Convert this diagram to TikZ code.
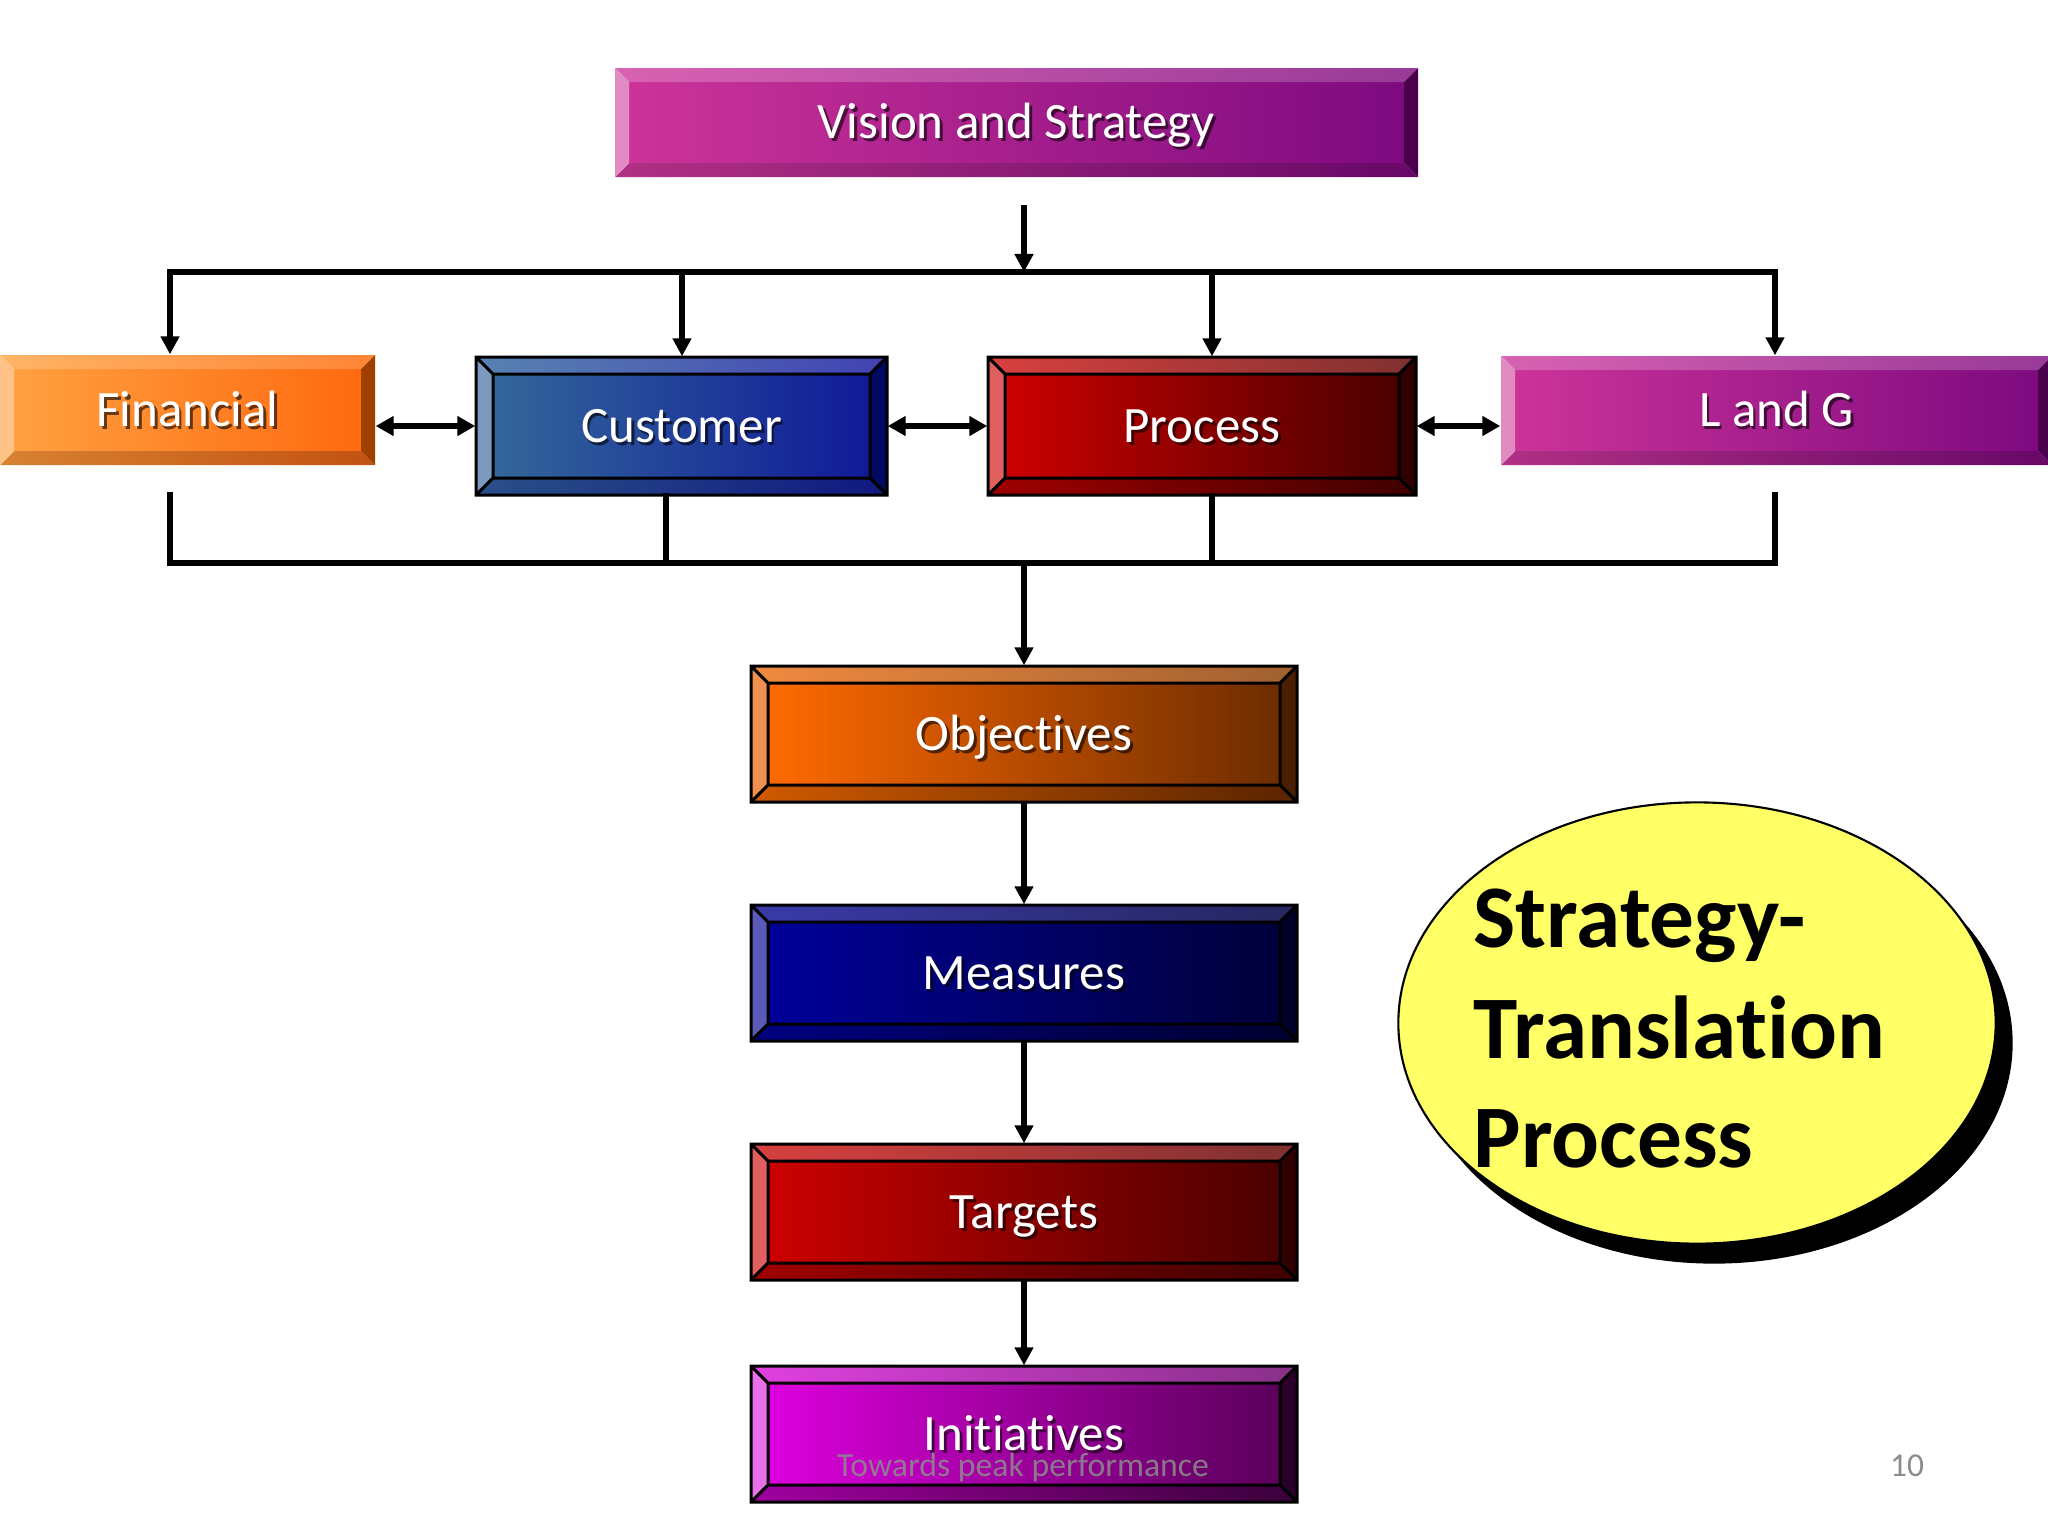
\documentclass[tikz,border=0pt]{standalone}
\usepackage{fontspec}
\setmainfont{Carlito}[Ligatures=NoCommon]
\usetikzlibrary{arrows.meta,shapes.geometric,fit}

% Vision / L and G scheme
\definecolor{visFL}{HTML}{CC3399}\definecolor{visFR}{HTML}{7E0A80}
\definecolor{visTL}{HTML}{D862B2}\definecolor{visTR}{HTML}{983A98}
\definecolor{visBL}{HTML}{B03084}\definecolor{visBR}{HTML}{680868}
\definecolor{visLC}{HTML}{E08CC2}\definecolor{visRC}{HTML}{4A004A}
% Financial
\definecolor{finFL}{HTML}{FFA040}\definecolor{finFR}{HTML}{FF6A10}
\definecolor{finTL}{HTML}{FFB466}\definecolor{finTR}{HTML}{FF8436}
\definecolor{finBL}{HTML}{D88232}\definecolor{finBR}{HTML}{C25212}
\definecolor{finLC}{HTML}{FFC286}\definecolor{finRC}{HTML}{A04000}
% Customer
\definecolor{cusFL}{HTML}{33669A}\definecolor{cusFR}{HTML}{101A99}
\definecolor{cusTL}{HTML}{5882B2}\definecolor{cusTR}{HTML}{4242B2}
\definecolor{cusBL}{HTML}{2A5088}\definecolor{cusBR}{HTML}{101880}
\definecolor{cusLC}{HTML}{7A9AC0}\definecolor{cusRC}{HTML}{000A60}
% Process / Targets
\definecolor{proFL}{HTML}{CC0000}\definecolor{proFR}{HTML}{4A0000}
\definecolor{proTL}{HTML}{D84040}\definecolor{proTR}{HTML}{803030}
\definecolor{proBL}{HTML}{A00000}\definecolor{proBR}{HTML}{400000}
\definecolor{proLC}{HTML}{E06060}\definecolor{proRC}{HTML}{300000}
% Objectives
\definecolor{objFL}{HTML}{FF6A00}\definecolor{objFR}{HTML}{6E2C00}
\definecolor{objTL}{HTML}{F08A40}\definecolor{objTR}{HTML}{A06030}
\definecolor{objBL}{HTML}{D05A00}\definecolor{objBR}{HTML}{5A2400}
\definecolor{objLC}{HTML}{F09050}\definecolor{objRC}{HTML}{4A1E00}
% Measures
\definecolor{meaFL}{HTML}{000099}\definecolor{meaFR}{HTML}{00003A}
\definecolor{meaTL}{HTML}{3A3AA8}\definecolor{meaTR}{HTML}{262660}
\definecolor{meaBL}{HTML}{000080}\definecolor{meaBR}{HTML}{000030}
\definecolor{meaLC}{HTML}{5A5AB8}\definecolor{meaRC}{HTML}{00002A}
% Initiatives
\definecolor{iniFL}{HTML}{DD00DD}\definecolor{iniFR}{HTML}{5A005A}
\definecolor{iniTL}{HTML}{E040E0}\definecolor{iniTR}{HTML}{883088}
\definecolor{iniBL}{HTML}{A000A0}\definecolor{iniBR}{HTML}{3A003A}
\definecolor{iniLC}{HTML}{E870E8}\definecolor{iniRC}{HTML}{2A002A}

\definecolor{ellyellow}{HTML}{FFFF66}
\definecolor{footgray}{HTML}{8C8C8C}

\tikzset{
  outl/.style={draw=black,line width=0.85pt,line join=miter},
  nool/.style={draw=none},
  lbl/.style={inner sep=0pt,text=white,font=\fontsize{14.5}{17}\selectfont,text height=9.3pt,text depth=0pt},
  lblshadow/.style={lbl,text=black,opacity=0.6},
  conn/.style={line width=0.06cm,line cap=rect},
  arr/.style={line width=0.06cm,-{Triangle[length=0.18cm,width=0.18cm]}},
  darr/.style={line width=0.06cm,{Triangle[length=0.18cm,width=0.19cm]}-{Triangle[length=0.18cm,width=0.19cm]}},
  bigtext/.style={anchor=base west,inner sep=0pt,font=\bfseries\fontsize{25.4}{30}\selectfont},
}

% #1 name, #2 scheme, #3 x1, #4 y1, #5 x2, #6 y2, #7 bevel, #8 label, #9 outline style
\newcommand\bevbox[9]{%
  \shade[left color=#2FL,right color=#2FR] ({#3+#7},{#4+#7}) rectangle ({#5-#7},{#6-#7});
  \shade[left color=#2TL,right color=#2TR] (#3,#4) -- (#5,#4) -- ({#5-#7},{#4+#7}) -- ({#3+#7},{#4+#7}) -- cycle;
  \shade[left color=#2BL,right color=#2BR] (#3,#6) -- (#5,#6) -- ({#5-#7},{#6-#7}) -- ({#3+#7},{#6-#7}) -- cycle;
  \fill[#2LC] (#3,#4) -- ({#3+#7},{#4+#7}) -- ({#3+#7},{#6-#7}) -- (#3,#6) -- cycle;
  \fill[#2RC] (#5,#4) -- ({#5-#7},{#4+#7}) -- ({#5-#7},{#6-#7}) -- (#5,#6) -- cycle;
  \path[#9] (#3,#4) rectangle (#5,#6) ({#3+#7},{#4+#7}) rectangle ({#5-#7},{#6-#7})
     (#3,#4) -- ({#3+#7},{#4+#7}) (#5,#4) -- ({#5-#7},{#4+#7})
     (#3,#6) -- ({#3+#7},{#6-#7}) (#5,#6) -- ({#5-#7},{#6-#7});
  \node[fit={(#3,#4) (#5,#6)},inner sep=0pt] (#1) {};
  \node[lblshadow] (#1-s) at ([shift={(2.8,2.8)}]#1.center) {#8};
  \node[lbl] (#1-t) at (#1.center) {#8};
}

\begin{document}
\begin{tikzpicture}[x=0.01cm,y=-0.01cm]
\useasboundingbox (0,0) rectangle (2048,1536);
\fill[white] (0,0) rectangle (2048,1536);

% boxes
\bevbox{vis}{vis}{615}{68}{1418}{177}{14}{Vision and Strategy}{nool}
\bevbox{fin}{fin}{0}{355}{375}{465}{14}{Financial}{nool}
\bevbox{cus}{cus}{476}{357}{887}{495}{17}{Customer}{outl}
\bevbox{pro}{pro}{988}{357}{1416}{495}{17}{Process}{outl}
\bevbox{lag}{vis}{1501}{356}{2052}{465}{14}{L and G}{nool}
\bevbox{obj}{obj}{751}{666}{1297}{802}{17}{Objectives}{outl}
\bevbox{mea}{mea}{751}{905}{1297}{1041}{17}{Measures}{outl}
\bevbox{tar}{pro}{751}{1144}{1297}{1280}{17}{Targets}{outl}
\bevbox{ini}{ini}{751}{1366}{1297}{1502}{17}{Initiatives}{outl}

% top distribution
\coordinate (vstart) at (1024,205);
\coordinate (tbm) at (1024,272);
\coordinate (tb1) at (170,272);
\coordinate (tb2) at (682,272);
\coordinate (tb3) at (1212,272);
\coordinate (tb4) at (1775,272);
\draw[arr] (vstart) -- (tbm);
\draw[conn] (tb1) -- (tb4);
\draw[arr] (tb1) -- (tb1 |- fin.north);
\draw[arr] (tb2) -- (tb2 |- cus.north);
\draw[arr] (tb3) -- (tb3 |- pro.north);
\draw[arr] (tb4) -- (tb4 |- lag.north);

% horizontal links
\draw[darr] (fin.east |- cus.west) -- (cus.west);
\draw[darr] (cus.east) -- (pro.west);
\draw[darr] (pro.east) -- (pro.east -| lag.west);

% bottom collection
\coordinate (bf) at (170,495);
\coordinate (bl) at (1775,495);
\coordinate (bb1) at (170,563);
\coordinate (bb2) at (666,563);
\coordinate (bb3) at (1212,563);
\coordinate (bb4) at (1775,563);
\coordinate (bbm) at (1024,563);
\draw[conn] (bf) -- (bb1) -- (bb4) -- (bl);
\draw[conn] (bb2 |- cus.south) -- (bb2);
\draw[conn] (bb3 |- pro.south) -- (bb3);
\draw[arr] (bbm) -- (obj.north);

% vertical chain
\draw[arr] (obj.south) -- (mea.north);
\draw[arr] (mea.south) -- (tar.north);
\draw[arr] (tar.south) -- (ini.north);

% ellipse
\node[ellipse,fill=black,minimum width=5.97cm,minimum height=4.41cm,inner sep=0pt] (ellsh) at (1714,1043) {};
\node[ellipse,fill=ellyellow,draw=black,line width=0.6pt,minimum width=5.97cm,minimum height=4.41cm,inner sep=0pt] (ell) at (1697,1023) {};
\node[bigtext] (e1) at (1473,947) {Strategy-};
\node[bigtext] (e2) at (1473,1058) {Translation};
\node[bigtext] (e3) at (1473,1167) {Process};

% footer
\node[inner sep=0pt,text=footgray,opacity=0.85,font=\fontsize{9.6}{11}\selectfont] (foot) at (1023,1467) {Towards peak performance};
\node[inner sep=0pt,text=footgray,font=\fontsize{9.5}{11}\selectfont] (pnum) at (1907,1466) {10};
\end{tikzpicture}
\end{document}
